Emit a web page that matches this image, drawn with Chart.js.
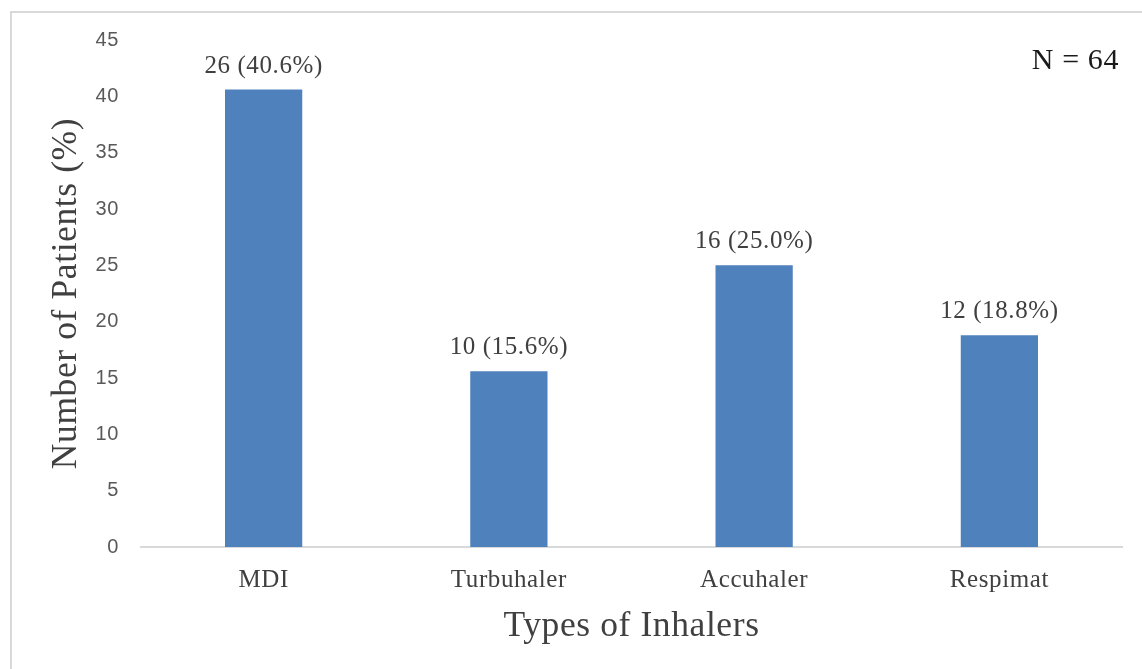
<!DOCTYPE html>
<html>
<head>
<meta charset="utf-8">
<script src="https://cdn.jsdelivr.net/npm/chart.js@4"></script>
<style>
  html, body { margin: 0; padding: 0; background: #fff; overflow: hidden; }
  #frame { position: absolute; left: 10px; top: 11px; width: 1200px; height: 720px; border: 2px solid #d9d9d9; }
  #wrap { position: absolute; left: 0; top: 0; width: 1142px; height: 669px; }
</style>
</head>
<body>
<div id="frame"></div>
<div id="wrap"><canvas id="mycanvas" width="1142" height="669"></canvas></div>
<script>
// values
var inhalers = ['MDI', 'Turbuhaler', 'Accuhaler', 'Respimat'];
var patients = [26, 10, 16, 12];
var percents = [40.6, 15.6, 25.0, 18.8];
var yTicks = [0, 5, 10, 15, 20, 25, 30, 35, 40, 45];
var totalN = 64;

var serif = "'Liberation Serif', 'Times New Roman', serif";

// the original text is a little wider than plain canvas text
var spacingPlugin = {
  id: 'spacing',
  beforeDraw: function(chart) {
    chart.ctx.letterSpacing = '0.6px';
  }
};

// puts "26 (40.6%)" above each bar and the N note in the corner
var labelPlugin = {
  id: 'barLabels',
  afterDatasetsDraw: function(chart) {
    var ctx = chart.ctx;
    var meta = chart.getDatasetMeta(0);
    ctx.save();
    ctx.letterSpacing = '0.6px';
    ctx.font = '25px ' + serif;
    ctx.fillStyle = '#404040';
    ctx.textAlign = 'center';
    ctx.textBaseline = 'alphabetic';
    meta.data.forEach(function(bar, i) {
      ctx.fillText(patients[i] + ' (' + percents[i].toFixed(1) + '%)', bar.x, bar.y - 17);
    });
    ctx.font = '30px ' + serif;
    ctx.fillStyle = '#1a1a1a';
    ctx.textAlign = 'right';
    ctx.fillText('N = ' + totalN, chart.chartArea.right - 3, 69);
    ctx.restore();
  }
};

var ctx = document.getElementById('mycanvas');
var chart = new Chart(ctx, {
  type: 'bar',
  data: {
    labels: inhalers,
    datasets: [{
      label: 'Patients (%)',
      data: percents,
      backgroundColor: '#4f81bd',
      borderWidth: 0,
      barPercentage: 0.63,
      categoryPercentage: 0.5
    }]
  },
  options: {
    responsive: false,
    animation: false,
    layout: { padding: { left: 10, right: 20, top: 40, bottom: 0 } },
    plugins: { legend: { display: false }, tooltip: { enabled: false } },
    scales: {
      x: {
        grid: { display: false, drawTicks: false },
        border: { display: true, color: '#d9d9d9', width: 2 },
        ticks: { color: '#404040', font: { family: serif, size: 25 }, padding: 18 },
        title: { display: true, text: 'Types of Inhalers', color: '#404040',
                 font: { family: serif, size: 35.5 }, padding: { top: 0, bottom: 21 } },
        afterFit: function(scale) { scale.height = 122; }
      },
      y: {
        min: 0,
        max: 45,
        grid: { display: false, drawTicks: false },
        border: { display: false },
        afterBuildTicks: function(scale) {
          scale.ticks = yTicks.map(function(v) { return { value: v }; });
        },
        ticks: { color: '#595959', font: { family: "'Liberation Sans', Arial, sans-serif", size: 20 }, padding: 22 },
        title: { display: true, text: 'Number of Patients (%)', color: '#404040',
                 font: { family: serif, size: 35.5 }, padding: { top: 35, bottom: 0 } },
        afterFit: function(scale) { scale.width = 131; }
      }
    }
  },
  plugins: [spacingPlugin, labelPlugin]
});
</script>
</body>
</html>
